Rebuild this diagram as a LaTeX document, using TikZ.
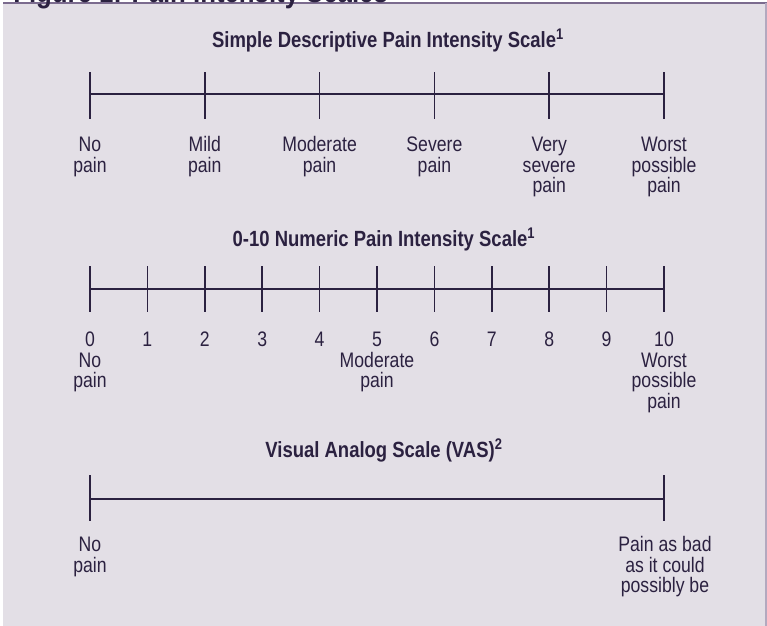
\documentclass[tikz,border=0pt]{standalone}
\usepackage{fontspec}
\setmainfont[FakeStretch=0.84]{Liberation Sans}
\definecolor{ink}{HTML}{2B2140}
\definecolor{boxfill}{HTML}{E3DFE6}
\definecolor{topedge}{HTML}{7B6B8E}
\definecolor{sideedge}{HTML}{B3A9BF}
\begin{document}
\begin{tikzpicture}[x=0.75pt,y=-0.75pt,
  lab/.style={font=\fontsize{15.75}{15.4}\selectfont, text=ink, align=center, anchor=base, inner sep=0pt},
  ttl/.style={font=\bfseries\fontsize{16.5}{18}\selectfont, text=ink, anchor=base, inner sep=0pt},
  scaleline/.style={draw=ink, line width=1.2pt}]
\useasboundingbox (0,0) rectangle (767,625);
\clip (0,0) rectangle (767,625);
% panel
\fill[boxfill] (3,3) rectangle (767,626);
\draw[topedge, line width=1.5pt] (3,3) -- (767,3);
\draw[sideedge, line width=1pt] (766,3) -- (766,626);
\node[anchor=base west, font=\bfseries\fontsize{23}{25}\selectfont, text=ink, inner sep=0pt] (fig) at (13,2.5) {Figure 1: Pain Intensity Scales};

% ---- Scale 1 (label node placed by the baseline of its last line)
\node[ttl] (t1) at (388,47.7) {Simple Descriptive Pain Intensity Scale\textsuperscript{1}};
\coordinate (s1l) at (90,94);
\coordinate (s1r) at (664,94);
\draw[scaleline] (s1l) -- (s1r);
\foreach \i/\n/\t in {0/1/{No\\pain},1/1/{Mild\\pain},2/1/{Moderate\\pain},3/1/{Severe\\pain},4/2/{Very\\severe\\pain},5/2/{Worst\\possible\\pain}}{
  \coordinate (s1a\i) at (90+114.8*\i,72);
  \coordinate (s1b\i) at (90+114.8*\i,119);
  \draw[scaleline] (s1a\i) -- (s1b\i);
  \node[lab] (s1lab\i) at (90+114.8*\i,151.7+20.5*\n) {\t};
}

% ---- Scale 2
\node[ttl] (t2) at (384,246.7) {0-10 Numeric Pain Intensity Scale\textsuperscript{1}};
\coordinate (s2l) at (90,289);
\coordinate (s2r) at (664,289);
\draw[scaleline] (s2l) -- (s2r);
\foreach \i/\n/\t in {0/2/{0\\No\\pain},1/0/{1},2/0/{2},3/0/{3},4/0/{4},5/2/{5\\Moderate\\pain},6/0/{6},7/0/{7},8/0/{8},9/0/{9},10/3/{10\\Worst\\possible\\pain}}{
  \coordinate (s2a\i) at (90+57.4*\i,266);
  \coordinate (s2b\i) at (90+57.4*\i,312);
  \draw[scaleline] (s2a\i) -- (s2b\i);
  \node[lab] (s2lab\i) at (90+57.4*\i,346.7+20.5*\n) {\t};
}

% ---- Scale 3
\node[ttl] (t3) at (384,457.7) {Visual Analog Scale (VAS)\textsuperscript{2}};
\coordinate (s3l) at (90,499);
\coordinate (s3r) at (664,499);
\draw[scaleline] (s3l) -- (s3r);
\coordinate (s3a0) at (90,475);
\coordinate (s3b0) at (90,521);
\coordinate (s3a1) at (664,475);
\coordinate (s3b1) at (664,521);
\draw[scaleline] (s3a0) -- (s3b0);
\draw[scaleline] (s3a1) -- (s3b1);
\node[lab] (s3lab0) at (90,551.7+20.5) {No\\pain};
\node[lab] (s3lab1) at (665,551.7+41) {Pain as bad\\as it could\\possibly be};
\end{tikzpicture}
\end{document}
